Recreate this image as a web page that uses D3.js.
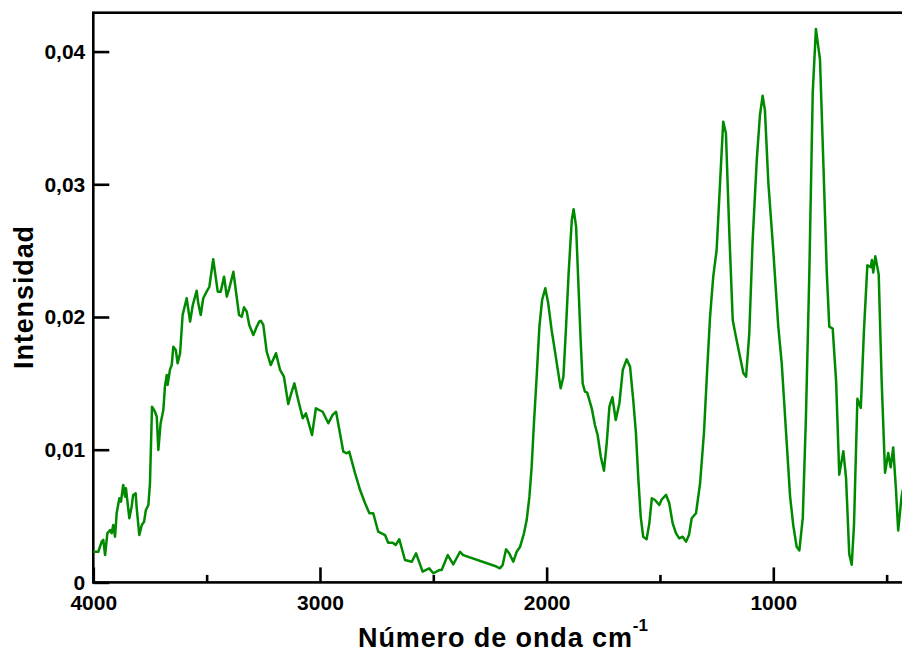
<!DOCTYPE html>
<html>
<head>
<meta charset="utf-8">
<script src="https://cdn.jsdelivr.net/npm/d3@7"></script>
<style>
  html, body { margin: 0; padding: 0; background: #fff; overflow: hidden; }
  svg { display: block; }
  text { font-family: "Liberation Sans", Arial, Helvetica, sans-serif; font-weight: bold; fill: #000; }
</style>
</head>
<body>
<svg id="chart" width="902" height="652"></svg>
<script>
// IR spectrum: wavenumber (cm-1) and intensity
const wavenumbers = [
  4000, 3978, 3963, 3956, 3948, 3938, 3926, 3919, 3912, 3904, 3897, 3885, 3878, 3868, 3860, 3856,
  3841, 3831, 3824, 3813, 3809, 3797, 3786, 3776, 3768, 3757, 3750, 3741, 3728, 3720, 3713, 3703,
  3691, 3684, 3676, 3672, 3662, 3654, 3647, 3636, 3628, 3617, 3606, 3588, 3573, 3561, 3544, 3537,
  3526, 3515, 3500, 3488, 3471, 3451, 3438, 3423, 3411, 3400, 3382, 3357, 3345, 3335, 3323, 3312,
  3294, 3279, 3268, 3261, 3250, 3235, 3217, 3194, 3176, 3159, 3140, 3129, 3113, 3096, 3076, 3062,
  3035, 3018, 2988, 2963, 2944, 2929, 2897, 2882, 2871, 2845, 2823, 2801, 2782, 2765, 2743, 2713,
  2699, 2679, 2666, 2650, 2625, 2595, 2576, 2547, 2518, 2500, 2473, 2463, 2436, 2412, 2382, 2368,
  2228, 2206, 2194, 2179, 2165, 2147, 2132, 2117, 2100, 2088, 2076, 2066, 2056, 2044, 2032, 2020,
  2006, 1993, 1978, 1963, 1953, 1938, 1926, 1915, 1903, 1889, 1881, 1870, 1860, 1850, 1841, 1831,
  1821, 1801, 1787, 1775, 1761, 1747, 1735, 1723, 1710, 1695, 1679, 1664, 1647, 1632, 1618, 1606,
  1596, 1585, 1574, 1559, 1547, 1536, 1522, 1503, 1492, 1473, 1459, 1444, 1429, 1415, 1400, 1385,
  1372, 1360, 1341, 1323, 1306, 1291, 1279, 1265, 1250, 1235, 1221, 1209, 1194, 1179, 1165, 1150,
  1132, 1120, 1106, 1091, 1073, 1059, 1047, 1037, 1022, 1000, 978, 963, 941, 926, 912, 897,
  885, 870, 856, 841, 826, 812, 794, 779, 764, 753, 738, 723, 709, 691, 679, 665,
  654, 644, 629, 614, 600, 585, 570, 565, 559, 550, 535, 522, 507, 493, 482, 471,
  459, 449, 434, 428
];
const intensity = [
  0.00231, 0.00231, 0.00307, 0.00320, 0.00206, 0.00370, 0.00395, 0.00370, 0.00433, 0.00344, 0.00521, 0.00634, 0.00608, 0.00734, 0.00646, 0.00709,
  0.00483, 0.00570, 0.00659, 0.00671, 0.00570, 0.00357, 0.00433, 0.00457, 0.00546, 0.00583, 0.00747, 0.01324, 0.01286, 0.01249, 0.00998, 0.01199,
  0.01299, 0.01475, 0.01563, 0.01488, 0.01601, 0.01638, 0.01776, 0.01751, 0.01651, 0.01727, 0.02015, 0.02141, 0.01965, 0.02090, 0.02198, 0.02103,
  0.02015, 0.02141, 0.02191, 0.02228, 0.02435, 0.02191, 0.02191, 0.02304, 0.02153, 0.02216, 0.02341, 0.02015, 0.02002, 0.02073, 0.02040, 0.01940,
  0.01864, 0.01927, 0.01965, 0.01972, 0.01940, 0.01739, 0.01638, 0.01727, 0.01601, 0.01550, 0.01344, 0.01412, 0.01500, 0.01375, 0.01237, 0.01274,
  0.01111, 0.01312, 0.01286, 0.01199, 0.01262, 0.01286, 0.00985, 0.00973, 0.00985, 0.00822, 0.00696, 0.00596, 0.00521, 0.00521, 0.00382, 0.00357,
  0.00299, 0.00299, 0.00282, 0.00325, 0.00169, 0.00156, 0.00219, 0.00081, 0.00106, 0.00069, 0.00093, 0.00093, 0.00206, 0.00135, 0.00231, 0.00206,
  0.00124, 0.00106, 0.00131, 0.00249, 0.00219, 0.00156, 0.00231, 0.00269, 0.00370, 0.00470, 0.00646, 0.00872, 0.01199, 0.01550, 0.01927, 0.02128,
  0.02216, 0.02103, 0.01902, 0.01739, 0.01626, 0.01463, 0.01550, 0.01902, 0.02329, 0.02731, 0.02812, 0.02681, 0.02254, 0.01827, 0.01500, 0.01437,
  0.01430, 0.01312, 0.01186, 0.01111, 0.00947, 0.00842, 0.01048, 0.01324, 0.01395, 0.01224, 0.01350, 0.01601, 0.01681, 0.01626, 0.01375, 0.01124,
  0.00797, 0.00495, 0.00344, 0.00325, 0.00445, 0.00634, 0.00621, 0.00583, 0.00626, 0.00659, 0.00596, 0.00445, 0.00370, 0.00332, 0.00344, 0.00307,
  0.00357, 0.00483, 0.00521, 0.00747, 0.01124, 0.01626, 0.02002, 0.02304, 0.02505, 0.03008, 0.03472, 0.03384, 0.02631, 0.01977, 0.01852, 0.01727,
  0.01576, 0.01550, 0.01877, 0.02580, 0.03183, 0.03520, 0.03667, 0.03559, 0.03014, 0.02498, 0.01927, 0.01655, 0.01057, 0.00649, 0.00432, 0.00268,
  0.00241, 0.00486, 0.01247, 0.02335, 0.03694, 0.04170, 0.03939, 0.03151, 0.02335, 0.01927, 0.01913, 0.01519, 0.00812, 0.00989, 0.00785, 0.00214,
  0.00133, 0.00432, 0.01384, 0.01315, 0.01900, 0.02390, 0.02376, 0.02430, 0.02335, 0.02457, 0.02321, 0.01519, 0.00826, 0.00975, 0.00867, 0.01017,
  0.00704, 0.00391, 0.00649, 0.00700
];

const xMajorTicks = [4000, 3000, 2000, 1000];
const xMinorTicks = [3500, 2500, 1500, 500];
const yTicks = [0, 0.01, 0.02, 0.03, 0.04];

const xTitle = "Número de onda cm";
const xTitleSup = "-1";
const yTitle = "Intensidad";

const svg = d3.select("#chart");
const plotLeft = 93.3, plotTop = 12.7, plotBottom = 582.4, plotRight = 909.3;

const x = d3.scaleLinear().domain([4000, 400]).range([plotLeft, plotRight]);
const y = d3.scaleLinear().domain([0, 0.04293]).range([plotBottom, plotTop]);

const locale = d3.formatLocale({ decimal: ",", thousands: ".", grouping: [3], currency: ["", ""] });
const fmtY = v => v === 0 ? "0" : locale.format(".2f")(v);

// plot frame
svg.append("rect")
  .attr("x", plotLeft).attr("y", plotTop)
  .attr("width", plotRight - plotLeft).attr("height", plotBottom - plotTop)
  .attr("fill", "none").attr("stroke", "#000").attr("stroke-width", 2.6);

// spectrum trace
const data = wavenumbers.map((w, i) => [w, intensity[i]]);
svg.append("path")
  .datum(data)
  .attr("fill", "none")
  .attr("stroke", "#008a00")
  .attr("stroke-width", 2.5)
  .attr("stroke-linejoin", "round")
  .attr("d", d3.line().x(d => x(d[0])).y(d => y(d[1])));

// x axis: inward ticks, labels below
const xAxisMajor = d3.axisBottom(x).tickValues(xMajorTicks).tickSize(-15).tickPadding(27.5).tickFormat(d3.format("d"));
const xAxisMinor = d3.axisBottom(x).tickValues(xMinorTicks).tickSize(-7.5).tickFormat("");
const gxm = svg.append("g").attr("transform", `translate(0,${plotBottom})`).call(xAxisMajor);
const gxn = svg.append("g").attr("transform", `translate(0,${plotBottom})`).call(xAxisMinor);
[gxm, gxn].forEach(g => {
  g.select(".domain").remove();
  g.selectAll(".tick line").attr("stroke", "#000").attr("stroke-width", 2.6);
});
gxm.selectAll(".tick text")
  .attr("font-size", 21).attr("font-weight", "bold")
  .attr("font-family", "'Liberation Sans', Arial, sans-serif")
  .attr("fill", "#000").attr("dy", 0);

// y axis: inward ticks, labels left
const yAxis = d3.axisLeft(y).tickValues(yTicks).tickSize(-16).tickPadding(8).tickFormat(fmtY);
const gy = svg.append("g").attr("transform", `translate(${plotLeft},0)`).call(yAxis);
gy.select(".domain").remove();
gy.selectAll(".tick line").attr("stroke", "#000").attr("stroke-width", 2.6);
gy.selectAll(".tick text")
  .attr("font-size", 21).attr("font-weight", "bold")
  .attr("font-family", "'Liberation Sans', Arial, sans-serif")
  .attr("fill", "#000");

// axis titles
const xt = svg.append("text")
  .attr("x", 503).attr("y", 647)
  .attr("text-anchor", "middle")
  .attr("font-size", 27)
  .attr("letter-spacing", 0.9);
xt.append("tspan").text(xTitle);
xt.append("tspan").attr("font-size", 17).attr("letter-spacing", 0).attr("dy", -16).text(xTitleSup);

svg.append("text")
  .attr("transform", `translate(33,297) rotate(-90)`)
  .attr("text-anchor", "middle")
  .attr("font-size", 27)
  .attr("letter-spacing", 0.9)
  .text(yTitle);
</script>
</body>
</html>
